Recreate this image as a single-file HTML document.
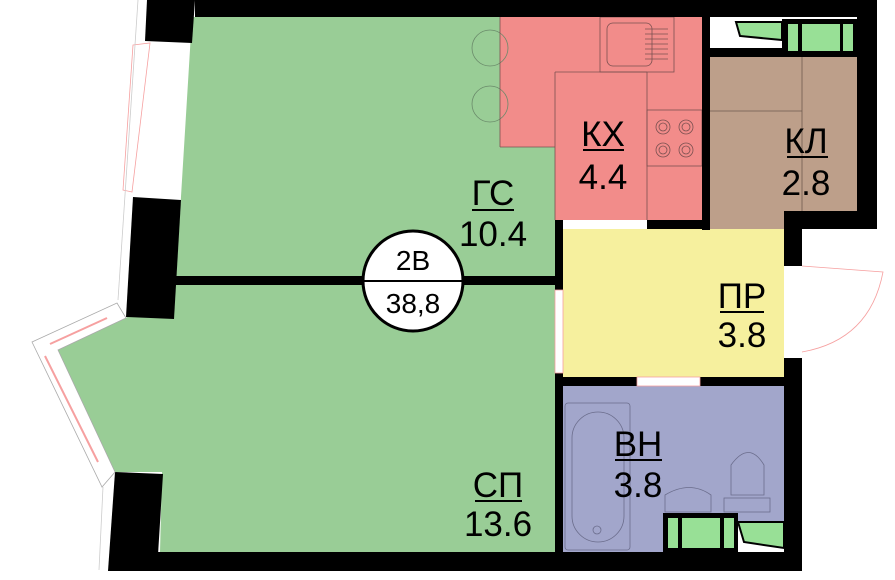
<!DOCTYPE html>
<html><head><meta charset="utf-8"><style>
html,body{margin:0;padding:0;background:#fff;}
svg{display:block}
text{font-family:"Liberation Sans","DejaVu Sans",sans-serif;fill:#000;text-anchor:middle}
</style></head><body>
<svg width="895" height="580" viewBox="0 0 895 580" xmlns="http://www.w3.org/2000/svg">
<!-- rooms -->
<polygon points="192,17 500,17 500,147 555,147 555,278 176,278" fill="#99cd96"/>
<polygon points="174,285 555,285 555,552 160,552 162,472 115,472 58,350 126,318" fill="#99cd96"/>
<polygon points="500,17 702,17 702,220 555,220 555,147 500,147" fill="#f28c8a"/>
<polygon points="710,57 857,57 857,211 784,211 784,229 710,229" fill="#bd9f8a"/>
<rect x="563" y="229" width="221" height="148" fill="#f6f09e"/>
<rect x="563" y="386" width="221" height="166" fill="#a2a6cb"/>

<!-- furniture lines -->
<g fill="none" stroke="#7a5050" stroke-width="0.8">
<circle cx="490" cy="48" r="18" stroke="#6a8a6a"/>
<circle cx="490" cy="104" r="18" stroke="#6a8a6a"/>
<line x1="500" y1="17" x2="500" y2="147"/>
<line x1="500" y1="147" x2="555" y2="147"/>
<line x1="555" y1="72" x2="555" y2="220"/>
<line x1="555" y1="72" x2="647" y2="72"/>
<line x1="647" y1="72" x2="647" y2="220"/>
<rect x="600" y="17" width="74" height="55"/>
<rect x="607" y="23" width="45" height="43" rx="6"/>
<rect x="647" y="110" width="55" height="56"/>
<circle cx="663" cy="127" r="7"/><circle cx="663" cy="127" r="4"/>
<circle cx="686" cy="127" r="7"/><circle cx="686" cy="127" r="4"/>
<circle cx="663" cy="150" r="7"/><circle cx="663" cy="150" r="4"/>
<circle cx="686" cy="150" r="7"/><circle cx="686" cy="150" r="4"/>
</g>
<g stroke="#7a5050" stroke-width="0.8">
<line x1="645" y1="29" x2="668" y2="29"/><line x1="645" y1="34" x2="668" y2="34"/>
<line x1="645" y1="39" x2="668" y2="39"/><line x1="645" y1="44" x2="668" y2="44"/>
<line x1="645" y1="49" x2="668" y2="49"/><line x1="645" y1="54" x2="668" y2="54"/>
<line x1="645" y1="59" x2="668" y2="59"/>
</g>
<g fill="none" stroke="#6e5a4e" stroke-width="0.8">
<line x1="802" y1="57" x2="802" y2="211"/>
<line x1="710" y1="111" x2="802" y2="111"/>
</g>
<g fill="none" stroke="#6b6d8c" stroke-width="0.8">
<rect x="565" y="403" width="65" height="147" rx="3"/>
<rect x="572" y="412" width="52" height="130" rx="26"/>
<circle cx="597" cy="530" r="4"/>
<path d="M665,512 L665,495 Q690,480 711,495 L711,512 Z"/>
<rect x="724" y="498" width="46" height="14"/>
<path d="M731,495 L731,465 Q749,440 764,465 L764,495 Z"/>
</g>

<!-- walls -->
<g fill="#000">
<rect x="195" y="0" width="682" height="17"/>
<polygon points="147,0 195,0 192,43 145,41"/>
<polygon points="133,197 181,200 174,319 126,317"/>
<rect x="176" y="276" width="187" height="9"/>
<rect x="463" y="276" width="92" height="9"/>
<polygon points="115,472 163,474 157,571 108,571"/>
<rect x="157" y="552" width="645" height="19"/>
<rect x="702" y="17" width="8" height="213"/>
<rect x="647" y="220" width="63" height="9"/>
<rect x="857" y="0" width="20" height="229"/>
<rect x="784" y="211" width="93" height="18"/>
<rect x="784" y="229" width="18" height="37"/>
<rect x="784" y="358" width="18" height="213"/>
<rect x="555" y="220" width="8" height="70"/>
<rect x="555" y="373" width="8" height="198"/>
<rect x="555" y="377" width="82" height="9"/>
<rect x="700" y="377" width="84" height="9"/>
<rect x="710" y="48" width="147" height="9"/>
<rect x="663" y="513" width="75" height="39"/>
<rect x="782" y="19" width="75" height="37"/>
</g>
<!-- windows -->
<rect x="710" y="17" width="72" height="31" fill="#fff"/>
<polygon points="736,22 782,22 782,40 740,36" fill="#98e096" stroke="#000" stroke-width="2"/>
<rect x="788" y="24" width="10" height="27" fill="#98e096"/>
<rect x="802" y="24" width="38" height="27" fill="#98e096"/>
<rect x="843" y="24" width="10" height="27" fill="#98e096"/>
<rect x="668" y="518" width="10" height="30" fill="#98e096"/>
<rect x="682" y="518" width="38" height="30" fill="#98e096"/>
<rect x="724" y="518" width="10" height="30" fill="#98e096"/>
<rect x="738" y="522" width="46" height="30" fill="#fff"/>
<polygon points="738,522 784,522 784,548 744,542" fill="#98e096" stroke="#000" stroke-width="2"/>
<rect x="555" y="290" width="8" height="83" fill="#fff" stroke="#f6a0a0" stroke-width="0.8"/>
<rect x="637" y="377" width="63" height="9" fill="#fff" stroke="#f6a0a0" stroke-width="0.8"/>
<path d="M802,266 L883,272 Q870,340 802,352" fill="none" stroke="#f6a0a0" stroke-width="0.8"/>
<polygon points="133,45 150,43 132,192 123,190" fill="#fff" stroke="#f6a0a0" stroke-width="0.8"/>
<line x1="138" y1="0" x2="118" y2="300" stroke="#ccc" stroke-width="0.8"/>
<polygon points="32,342 117,303 126,318 58,350 115,472 102,487" fill="#fff" stroke="#aaa" stroke-width="0.8"/>
<polyline points="50,344 107,318" fill="none" stroke="#f6a0a0" stroke-width="2"/>
<polyline points="45,356 98,462" fill="none" stroke="#f6a0a0" stroke-width="2"/>
<line x1="103" y1="487" x2="99" y2="570" stroke="#ccc" stroke-width="0.8"/>

<!-- circle badge -->
<circle cx="413" cy="281" r="50" fill="#fff" stroke="#000" stroke-width="3"/>
<line x1="363" y1="281" x2="463" y2="281" stroke="#000" stroke-width="2"/>
<text x="413" y="270" font-size="28">2В</text>
<text x="413" y="313" font-size="28">38,8</text>

<!-- labels -->
<g font-size="35">
<text x="493" y="205">ГС</text><rect x="472" y="209" width="42" height="2"/>
<text x="493" y="246">10.4</text>
<text x="603" y="146">КХ</text><rect x="583" y="149" width="41" height="2"/>
<text x="603" y="189">4.4</text>
<text x="806" y="153">КЛ</text><rect x="787" y="156" width="41" height="2"/>
<text x="806" y="195">2.8</text>
<text x="742" y="308">ПР</text><rect x="720" y="311" width="44" height="2"/>
<text x="742" y="347">3.8</text>
<text x="638" y="456">ВН</text><rect x="615" y="459" width="47" height="2"/>
<text x="638" y="497">3.8</text>
<text x="498" y="497">СП</text><rect x="475" y="500" width="47" height="2"/>
<text x="498" y="536">13.6</text>
</g>
</svg>
</body></html>
